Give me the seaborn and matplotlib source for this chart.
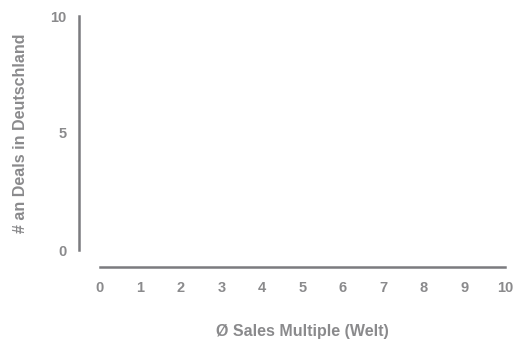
import pandas as pd
import matplotlib.pyplot as plt
import seaborn as sns

# Deals data (chart is empty in the reference)
sales_multiple = []
deals_germany = []
x_ticks = [0, 1, 2, 3, 4, 5, 6, 7, 8, 9, 10]
y_ticks = [0, 5, 10]

df = pd.DataFrame({"Sales Multiple": pd.Series(sales_multiple, dtype=float),
                   "Deals": pd.Series(deals_germany, dtype=float)})

sns.set_style("white")
plt.rcParams['font.family'] = ['Liberation Sans', 'DejaVu Sans']
plt.rcParams['font.weight'] = 'bold'

grey_line = "#7b7b7f"
grey_text = "#8a8a8c"

fig = plt.figure(figsize=(5.23, 3.45), dpi=100)
ax = fig.add_axes([100 / 523, 1 - 250 / 345, 405 / 523, 234 / 345])

sns.scatterplot(data=df, x="Sales Multiple", y="Deals", ax=ax)

ax.set_xlim(0, 10)
ax.set_ylim(0, 10)
ax.set_xticks(x_ticks, labels=[str(t) for t in x_ticks], fontweight="bold")
ax.set_yticks(y_ticks, labels=[str(t) for t in y_ticks], fontweight="bold")
ax.tick_params(length=0, labelsize=10.5, labelcolor=grey_text)
ax.tick_params(axis="x", pad=10.5)
ax.tick_params(axis="y", pad=9)

ax.set_xlabel("Ø Sales Multiple (Welt)", fontsize=11.5, fontweight="bold",
              color=grey_text, labelpad=21)
ax.set_ylabel("# an Deals in Deutschland", fontsize=11.5, fontweight="bold",
              color=grey_text, labelpad=16)

sns.despine(ax=ax, offset={"left": 15, "bottom": 12})
for side in ["left", "bottom"]:
    ax.spines[side].set_color(grey_line)
    ax.spines[side].set_linewidth(1.8)

fig.savefig("out.png", dpi=100)
